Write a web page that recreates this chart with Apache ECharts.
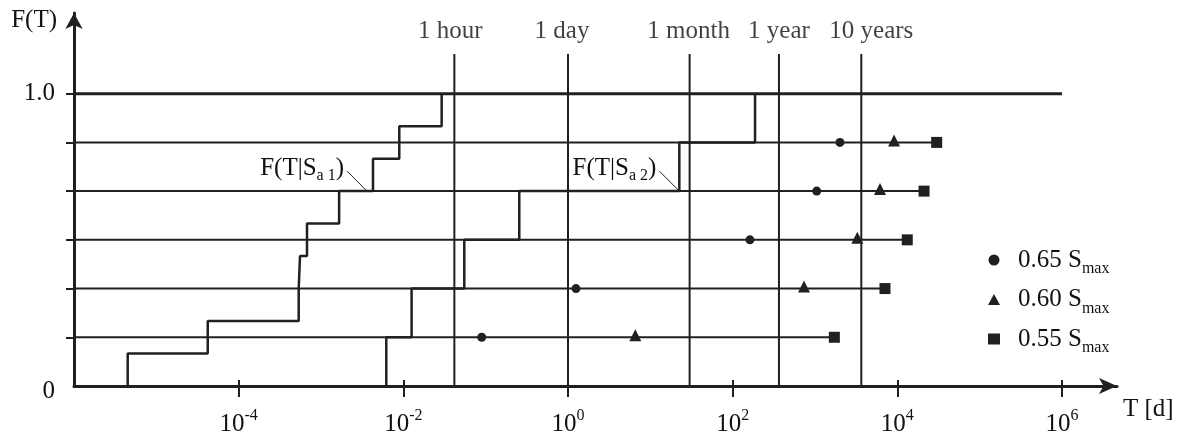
<!DOCTYPE html>
<html><head><meta charset="utf-8">
<script src="https://cdn.jsdelivr.net/npm/echarts@6/dist/echarts.min.js"></script>
<style>html,body{margin:0;padding:0;background:#fff}#c{width:1181px;height:435px}</style>
</head><body><div id="c"></div>
<script>
// ---------- data (T in days, F dimensionless) ----------
const xTickExponents = [-4, -2, 0, 2, 4, 6];
const yTickLevels = [1/6, 2/6, 3/6, 4/6, 5/6, 1];
const yLabelLevels = [0, 1];
const axisStartDays = 1e-6;
const axisEndExp = 6.668;
const yAxisMax = 1.276;
const timeMarkLabels = ['1 hour', '1 day', '1 month', '1 year', '10 years'];
const timeMarkDays = [1/24, 1, 30, 365, 3650];
const timeMarkTop = 1.136;
const topLineEndDays = 1e6;
const rowLevels = [1/6, 2/6, 3/6, 4/6, 5/6];
const t065 = [0.0895, 1.25, 162, 1050, 2010];
const t060 = [6.57, 735, 3265, 6160, 9120];
const t055 = [1718, 7080, 13200, 21100, 30060];
const curve1Days = [4.49e-6, 4.21e-5, 5.36e-4, 5.56e-4, 6.76e-4, 1.66e-3, 4.28e-3, 8.93e-3, 2.92e-2];
const curve1F = [1/9, 2/9, 3/9, 4/9, 5/9, 6/9, 7/9, 8/9, 1];
const curve2Days = [6.21e-3, 1.26e-2, 5.50e-2, 0.256, 22.5, 187];
const curve2F = [1/6, 2/6, 3/6, 4/6, 5/6, 1];
const annotSubs = ['a 1', 'a 2'];
const annotDays = [3.62e-3, 22.5];
const annotF = [2/3, 2/3];
const seriesNames = ['0.65 Smax', '0.60 Smax', '0.55 Smax'];

// ---------- styling / layout ----------
const INK = '#231f20';
const TXT = '#111';
const FONT = '"Liberation Serif", "Times New Roman", serif';
const FS = 25;
const timeLabelShift = [-4, -6, -1, 0, 10];   // px nudges of the top labels
const lg = Math.log10;
const x0 = lg(axisStartDays);

function stepPoints(days, F) {
  const pts = [];
  let prev = 0;
  days.forEach((d, i) => { pts.push([lg(d), prev]); pts.push([lg(d), F[i]]); prev = F[i]; });
  return pts;
}
function plainLine(data, width, z) {
  return { type: 'line', data, symbol: 'none', silent: true, z: z || 2,
    lineStyle: { color: INK, width }, emphasis: { disabled: true } };
}

const series = [];
series.push(plainLine([[x0, 1], [lg(topLineEndDays), 1]], 3));
rowLevels.forEach((f, k) => series.push(plainLine([[x0, f], [lg(t055[k]), f]], 2)));
timeMarkDays.forEach(d => series.push(plainLine([[lg(d), 0], [lg(d), timeMarkTop]], 2)));
series.push({
  type: 'scatter', symbolSize: 0, silent: true,
  data: timeMarkDays.map((d, i) => ({ value: [lg(d), timeMarkTop],
    label: { formatter: timeMarkLabels[i], offset: [timeLabelShift[i], 0] } })),
  label: { show: true, position: 'top', distance: 10, color: TXT, fontFamily: FONT, fontSize: FS }
});
series.push(plainLine(stepPoints(curve1Days, curve1F), 2.5, 3));
series.push(plainLine(stepPoints(curve2Days, curve2F), 2.5, 3));
const symbols = ['circle', 'triangle', 'rect'];
const sizes = [9, 12, 11];
const offsets = [[0, 0], [0, -2], [0, 0]];
[t065, t060, t055].forEach((arr, s) => {
  series.push({
    type: 'scatter', name: seriesNames[s], symbol: symbols[s], symbolSize: sizes[s], symbolOffset: offsets[s],
    itemStyle: { color: INK, opacity: 1 }, z: 4, silent: true,
    data: arr.map((d, k) => [lg(d), rowLevels[k]])
  });
});
series.push({
  type: 'custom', coordinateSystem: 'cartesian2d', silent: true, z: 5,
  data: annotDays.map((d, i) => [lg(d), annotF[i], i]),
  renderItem: (params, api) => {
    const p = api.coord([api.value(0), api.value(1)]);
    const i = api.value(2);
    const ex = p[0] - 20, ey = p[1] - 20;
    return { type: 'group', children: [
      { type: 'line', shape: { x1: p[0], y1: p[1], x2: ex, y2: ey }, style: { stroke: INK, lineWidth: 1 } },
      { type: 'text', x: ex - 3, y: ey - 3, style: {
          text: '{n|F(T|S}{s|' + annotSubs[i] + '}{n|)}', align: 'right', verticalAlign: 'middle',
          fill: TXT, fontFamily: FONT, fontSize: FS,
          rich: {
            n: { fontSize: FS, lineHeight: 34, fontFamily: FONT, fill: TXT },
            s: { fontSize: 16, lineHeight: 16, fontFamily: FONT, fill: TXT, padding: [16, 0, 0, 0] }
          } } }
    ] };
  }
});

const xTickLabelRich = {
  b: { fontSize: FS, lineHeight: 32, fontFamily: FONT, color: TXT },
  s: { fontSize: 16, lineHeight: 16, fontFamily: FONT, color: TXT, padding: [0, 0, 16, 0] }
};

const option = {
  animation: false,
  backgroundColor: '#fff',
  grid: { left: 74, right: 64, top: 13, bottom: 49, containLabel: false, outerBoundsMode: 'none' },
  legend: {
    orient: 'vertical', left: 983, top: 238, itemWidth: 12, itemHeight: 11, itemGap: 5.5,
    selectedMode: false,
    data: seriesNames.map((n, i) => ({ name: n, icon: symbols[i] })),
    itemStyle: { color: INK },
    formatter: n => '{n|' + n.replace(' Smax', ' S') + '}{s|max}',
    textStyle: {
      color: TXT, fontFamily: FONT, fontSize: FS, padding: [0, 0, 0, 13],
      rich: {
        n: { fontSize: FS, lineHeight: 34, fontFamily: FONT, color: TXT },
        s: { fontSize: 16, lineHeight: 16, fontFamily: FONT, color: TXT, padding: [18, 0, 0, 0] }
      }
    }
  },
  xAxis: [
    {
      type: 'value', min: x0, max: axisEndExp, position: 'bottom',
      axisLine: { show: true, onZero: false, symbol: ['none', 'arrow'], symbolSize: [12, 18], lineStyle: { color: INK, width: 3 } },
      axisTick: { show: true, length: 11, customValues: xTickExponents, lineStyle: { color: INK, width: 2 } },
      axisLabel: { show: true, customValues: xTickExponents, margin: 22,
        formatter: v => '{b|10}{s|' + v + '}', rich: xTickLabelRich },
      splitLine: { show: false },
      name: 'T [d]', nameLocation: 'end', nameGap: 6,
      nameTextStyle: { color: TXT, fontFamily: FONT, fontSize: FS, lineHeight: 28, align: 'left', verticalAlign: 'top', padding: [9, 0, 0, 0] }
    },
    {
      type: 'value', min: x0, max: axisEndExp, position: 'top', offset: -373,
      axisLine: { show: false, onZero: false },
      axisTick: { show: true, inside: false, length: 6, customValues: xTickExponents, lineStyle: { color: INK, width: 2 } },
      axisLabel: { show: false }, splitLine: { show: false }
    }
  ],
  yAxis: {
    type: 'value', min: 0, max: yAxisMax,
    axisLine: { show: true, onZero: false, symbol: ['none', 'arrow'], symbolSize: [13, 16], lineStyle: { color: INK, width: 3 } },
    axisTick: { show: true, length: 8, customValues: yTickLevels, lineStyle: { color: INK, width: 2 } },
    axisLabel: { show: true, customValues: yLabelLevels, margin: 19, color: TXT, fontFamily: FONT, fontSize: FS,
      formatter: v => (v === 1 ? '1.0' : '{z|0}'),
      rich: { z: { fontSize: FS, fontFamily: FONT, color: TXT, padding: [10, 0, 0, 0] } } },
    splitLine: { show: false },
    name: 'F(T)', nameLocation: 'end', nameGap: -7,
    nameTextStyle: { color: TXT, fontFamily: FONT, fontSize: FS, align: 'right', verticalAlign: 'middle', padding: [0, 17, 0, 0] }
  },
  series
};

const chart = echarts.init(document.getElementById('c'), null, { renderer: 'canvas' });
chart.setOption(option);
</script>
</body></html>
